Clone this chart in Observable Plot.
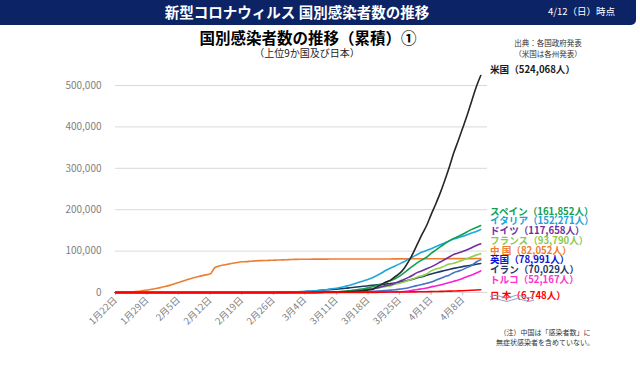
<!DOCTYPE html>
<html><head><meta charset="utf-8">
<script src="https://cdn.jsdelivr.net/npm/d3@7"></script>
<script src="https://cdn.jsdelivr.net/npm/@observablehq/plot@0.6"></script>
<style>
html,body{margin:0;padding:0;background:#fff;}
#wrap{position:relative;width:640px;height:367px;overflow:hidden;background:#fff;font-family:"Noto Sans CJK JP","Noto Sans",sans-serif;}
#wrap .abs{position:absolute;white-space:nowrap;}
#chart{position:absolute;left:0;top:0;}
#stack{left:490px;top:206.5px;font-weight:700;font-size:9.6px;line-height:9.8px;}
</style></head>
<body>
<div id="wrap">
  <div id="chart"></div>
  <div class="abs" style="left:0;top:0;width:636px;height:25px;background:#0c2366;border-bottom-right-radius:5px;"></div>
  <div class="abs" style="left:97px;top:2px;width:400px;text-align:center;color:#fff;font-weight:700;font-size:14.5px;line-height:20px;">新型コロナウィルス 国別感染者数の推移</div>
  <div class="abs" style="right:25px;top:5px;text-align:right;color:#fff;font-size:9.5px;line-height:13px;">4/12（日）時点</div>
  <div class="abs" style="left:158px;top:27px;width:300px;text-align:center;color:#000;font-weight:700;font-size:15.5px;line-height:20px;">国別感染者数の推移（累積）①</div>
  <div class="abs" style="left:207px;top:46px;width:200px;text-align:center;color:#222;font-size:10px;line-height:14px;">（上位9か国及び日本）</div>
  <div class="abs" style="left:508px;top:37px;width:80px;text-align:center;color:#333;font-size:7.5px;line-height:11px;">出典：各国政府発表<br>（米国は各州発表）</div>
  <div class="abs" style="left:495px;top:328px;width:100px;text-align:center;color:#333;font-size:7px;line-height:9.5px;">（注）中国は「感染者数」に<br>無症状感染者を含めていない。</div>
  <div id="labels"></div>
</div>
<script>
// Countries (label names), colours
const countries = ["米国","スペイン","イタリア","ドイツ","フランス","中 国","英国","イラン","トルコ","日 本"];
const lineColors = ["#262626","#12a150","#1ba8e0","#7030a0","#92d050","#ed7d31","#4472c4","#203864","#ff1fd2","#ff0000"];
const labelColors = ["#1a1a1a","#10a050","#17a4dc","#7030a0","#8dc84c","#ed7d31","#0a14d2","#1f3864","#ff33cc","#ff0000"];

// Daily cumulative cases, 1/22 .. 4/12 (Jan 10, Feb 29, Mar 31, Apr 12 values)
const usCases = [
 1,1,1,2,2,5,5,5,5,6,
 7,8,8,11,11,12,12,12,12,12,12,13,13,14,15,15,15,15,15,15,15,35,35,35,53,53,59,60,62,
 70,76,101,122,153,221,278,417,537,605,959,1281,1663,2179,2726,3499,4632,6421,7786,13680,19101,25493,30000,38000,46000,58000,75000,95000,118000,140909,161831,
 188172,213242,240000,270000,302000,336802,366317,397121,428654,462780,496535,524068];
const spainCases = [
 0,0,0,0,0,0,0,0,0,0,
 1,1,1,1,1,1,1,1,1,2,2,2,2,2,2,2,2,2,2,2,2,2,2,2,2,6,13,15,32,
 45,83,114,151,198,261,374,430,589,1024,1639,2140,3004,4209,5753,7753,9191,11178,13716,17147,19980,24926,28572,33089,39673,47610,56188,64059,72248,78797,85195,
 94417,102136,110238,117710,124736,130759,135032,140510,146690,152446,157022,161852];
const italyCases = [
 0,0,0,0,0,0,0,0,0,2,
 2,2,2,2,2,2,3,3,3,3,3,3,3,3,3,3,3,3,3,3,3,20,79,150,229,322,400,650,888,
 1128,1694,2036,2502,3089,3858,4636,5883,7375,9172,10149,12462,15113,17660,21157,24747,27980,31506,35713,41035,47021,53578,59138,63927,69176,74386,80539,86498,92472,97689,101739,
 105792,110574,115242,119827,124632,128948,132547,135586,139422,143626,147577,152271];
const germanyCases = [
 0,0,0,0,0,0,1,4,4,5,
 8,10,12,12,12,12,13,14,14,14,14,16,16,16,16,16,16,16,16,16,16,16,16,16,16,18,26,46,48,
 79,130,159,196,262,400,639,795,902,1139,1296,1567,2369,3062,3795,4838,6012,7156,8198,10999,13957,16662,18610,22672,27436,31554,36508,42288,48582,52547,57298,
 61913,67366,73522,79696,85778,91714,95391,99225,103228,108202,113525,117658];
const franceCases = [
 0,0,0,3,3,3,4,4,5,6,
 6,6,6,6,6,6,6,6,11,11,11,11,11,11,11,12,12,12,12,12,12,12,12,12,12,14,18,38,57,
 100,130,191,212,285,423,613,949,1126,1412,1784,2281,2876,3661,4499,5423,6633,7730,9134,10995,12612,14459,16018,19856,22302,25233,29155,32964,37575,40174,44550,
 52128,56989,59105,64338,68605,70478,74390,78167,82048,86334,90276,93790];
const chinaCases = [
 440,571,830,1287,1975,2744,4515,5974,7711,9692,
 11791,14380,17205,20438,24324,28018,31161,34546,37198,40171,42638,44653,59804,63851,66492,68500,70548,72436,74185,74576,75465,76288,76936,77150,77658,78064,78497,78824,79251,
 79824,80026,80151,80270,80409,80552,80651,80695,80735,80754,80778,80793,80813,80824,80844,80860,80881,80894,80928,80967,81008,81054,81093,81171,81218,81285,81340,81394,81439,81470,81518,
 81554,81589,81620,81639,81669,81708,81740,81802,81865,81907,81953,82052];
const ukCases = [
 0,0,0,0,0,0,0,0,0,0,
 2,2,2,2,2,2,3,3,3,3,8,8,8,9,9,9,9,9,9,9,9,9,9,9,9,9,13,15,20,
 23,36,40,51,85,115,163,206,273,321,373,456,590,798,1140,1372,1543,1950,2626,3269,3983,5018,5683,6650,8077,9529,11658,14543,17089,19522,22141,
 25150,29474,33718,38168,41903,47806,51608,55242,60733,65077,73758,78991];
const iranCases = [
 0,0,0,0,0,0,0,0,0,0,
 0,0,0,0,0,0,0,0,0,0,0,0,0,0,0,0,0,0,0,2,5,18,28,43,61,95,139,245,388,
 593,978,1501,2336,2922,3513,4747,5823,6566,7161,8042,9000,10075,11364,12729,13938,14991,16169,17361,18407,19644,20610,21638,23049,24811,27017,29406,32332,35408,38309,41495,
 44605,47593,50468,53183,55743,58226,60500,62589,64586,66220,68192,70029];
const turkeyCases = [
 0,0,0,0,0,0,0,0,0,0,
 0,0,0,0,0,0,0,0,0,0,0,0,0,0,0,0,0,0,0,0,0,0,0,0,0,0,0,0,0,
 0,0,0,0,0,0,0,0,0,0,0,1,1,5,6,18,47,98,191,359,670,947,1236,1529,1872,2433,3629,5698,7402,9217,10827,
 13531,15679,18135,20921,23934,27069,30217,34109,38226,42282,47029,52167];
const japanCases = [
 1,1,1,2,3,4,4,7,7,11,
 15,20,20,20,22,22,25,25,25,26,26,28,28,29,41,53,59,66,74,84,94,105,132,144,157,164,186,210,230,
 239,254,268,284,317,349,408,455,488,514,568,620,675,716,780,814,829,873,914,950,1007,1046,1089,1128,1193,1291,1387,1499,1693,1866,1953,
 2178,2381,2617,2935,3271,3654,3906,4257,4768,5347,6005,6748];

const seriesValues = [usCases,spainCases,italyCases,germanyCases,franceCases,chinaCases,ukCases,iranCases,turkeyCases,japanCases];

// Axis ticks
const yTicks = [0,100000,200000,300000,400000,500000];
const xTickDates = ["2020-01-22","2020-01-29","2020-02-05","2020-02-12","2020-02-19","2020-02-26","2020-03-04","2020-03-11","2020-03-18","2020-03-25","2020-04-01","2020-04-08"];
const xTickLabels = ["1月22日","1月29日","2月5日","2月12日","2月19日","2月26日","3月4日","3月11日","3月18日","3月25日","4月1日","4月8日"];

const dates = d3.utcDay.range(new Date(Date.UTC(2020,0,22)), new Date(Date.UTC(2020,3,13)));
const tickDates = xTickDates.map(s => new Date(s + "T00:00:00Z"));

// draw order (bottom -> top)
const drawOrder = [5,7,6,4,3,2,1,8,0,9];
const rows = drawOrder.flatMap(k => seriesValues[k].map((v,i) => ({country: countries[k], date: dates[i], cases: v})));

const chart = Plot.plot({
  width: 640, height: 367,
  marginLeft: 115, marginRight: 153, marginTop: 85, marginBottom: 75,
  style: {fontFamily: '"Noto Sans CJK JP","Noto Sans",sans-serif', background: "transparent"},
  x: {type: "utc", domain: [new Date(Date.UTC(2020,0,22)), new Date(Date.UTC(2020,3,13,12))]},
  y: {domain: [0, 500000]},
  color: {domain: countries, range: lineColors},
  marks: [
    Plot.gridY(yTicks, {stroke: "#d9d9d9", strokeOpacity: 1}),
    Plot.axisY(yTicks, {tickSize: 0, tickPadding: 14, fill: "#7f7f7f", fontSize: 10, label: null,
      tickFormat: d => d.toLocaleString("en-US")}),
    Plot.axisX(tickDates, {tickRotate: -45, tickSize: 3, tickPadding: 3, stroke: "#bfbfbf", fill: "#7f7f7f", fontSize: 9.5, label: null,
      tickFormat: d => xTickLabels[tickDates.findIndex(t => +t === +d)]}),
    Plot.line(rows, {x: "date", y: "cases", z: "country", stroke: "country", strokeWidth: 1.6, curve: "monotone-x"})
  ]
});
document.getElementById("chart").appendChild(chart);

// right-hand labels
const lab = document.getElementById("labels");
const labelText = k => `${countries[k]}（${seriesValues[k][seriesValues[k].length-1].toLocaleString("en-US")}人）`;
function single(k, top) {
  const d = document.createElement("div");
  d.className = "abs";
  d.style.cssText = `left:490px;top:${top}px;color:${labelColors[k]};font-weight:700;font-size:9.6px;line-height:9.8px;`;
  d.textContent = labelText(k);
  lab.appendChild(d);
}
single(0, 65);
// stacked labels for the others, in one block
const stack = document.createElement("div");
stack.className = "abs";
stack.id = "stack";
stack.innerHTML = [1,2,3,4,5,6,7,8].map(k => `<span style="color:${labelColors[k]}">${labelText(k)}</span>`).join("<br>");
lab.appendChild(stack);
single(9, 290.5);
// break mark between トルコ and 日本
const wave = document.createElement("div");
wave.className = "abs";
wave.style.cssText = "left:489px;top:283px;";
wave.innerHTML = '<svg width="46" height="9"><path d="M1,3.5 q5,-3 11,0 t11,0 t11,0 t11,0 M1,7 q5,-3 11,0 t11,0 t11,0 t11,0" fill="none" stroke="#8ea6c4" stroke-width="1"/></svg>';
lab.appendChild(wave);
</script>
</body></html>
